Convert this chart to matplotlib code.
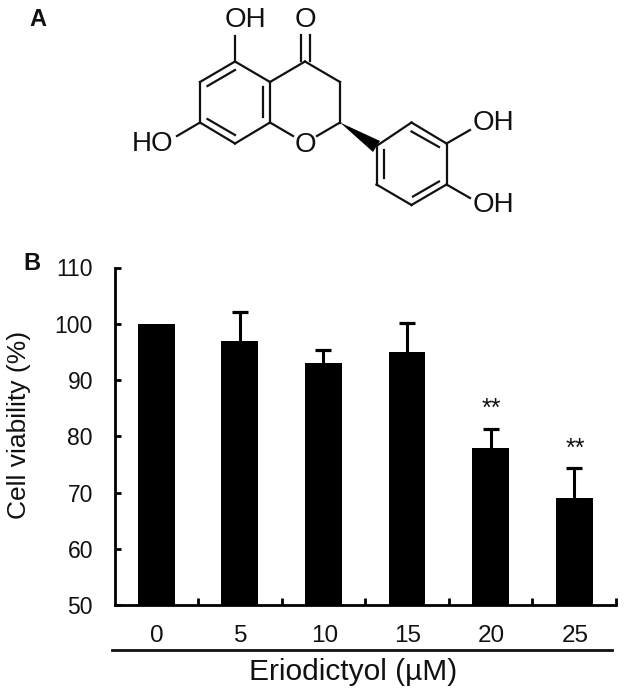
import matplotlib
matplotlib.use("Agg")
import matplotlib.pyplot as plt

plt.rcParams['font.family'] = ['Liberation Sans', 'DejaVu Sans']

W, H = 629, 696
INK = '#111111'

# Panel B data
doses = ['0', '5', '10', '15', '20', '25']
viability = [100, 97, 93, 95, 78, 69]
errors = [0, 5.1, 2.3, 5.2, 3.3, 5.3]
stars = ['', '', '', '', '**', '**']
yticks = [50, 60, 70, 80, 90, 100, 110]

# Panel A structure, in image pixels
bonds = [
    [(235, 61.5), (200, 82)], [(200, 82), (200, 122.5)], [(200, 122.5), (235, 143.5)],
    [(235, 143.5), (270, 122.5)], [(270, 122.5), (270, 82)], [(270, 82), (235, 61.5)],
    [(270, 82), (305, 61.5)], [(305, 61.5), (340, 82)], [(340, 82), (340, 122.5)],
    [(340, 122.5), (317, 136)], [(293, 136), (270, 122.5)],
    [(235, 61.5), (235, 36)], [(200, 122.5), (177, 136)],
    [(376.5, 146), (411.5, 122.5)], [(411.5, 122.5), (446.5, 143.5)],
    [(446.5, 143.5), (446.5, 184.5)], [(446.5, 184.5), (411.5, 205)],
    [(411.5, 205), (376.5, 184.5)], [(376.5, 184.5), (376.5, 146)],
    [(446.5, 143.5), (470, 130)], [(446.5, 184.5), (470, 198)],
]
inner_bonds = [
    [(207.5, 86), (235, 70)], [(207.5, 119), (235, 135)], [(262.5, 87), (262.5, 117)],
    [(384, 150), (384, 178)], [(411.5, 131.5), (439, 147)], [(439, 181.5), (413, 196.5)],
    [(301, 35), (301, 61)], [(309.5, 35), (309.5, 61)],
]
wedge = [(340, 122.5), (380, 141), (373, 152)]
atom_labels = [
    ('OH', 245, 20), ('O', 305, 20), ('HO', 153, 144), ('O', 305, 145),
    ('OH', 493, 123), ('OH', 493, 205.5),
]

fig = plt.figure(figsize=(W / 100, H / 100), dpi=100)

# Overlay in pixel coordinates for the structure and the labels
over = fig.add_axes([0, 0, 1, 1])
over.set_xlim(0, W)
over.set_ylim(H, 0)
over.axis('off')

for b in bonds + inner_bonds:
    over.plot([b[0][0], b[1][0]], [b[0][1], b[1][1]], color=INK, lw=1.6,
              solid_capstyle='projecting')
over.fill([p[0] for p in wedge], [p[1] for p in wedge], color='black', lw=0)
for txt, x, y in atom_labels:
    over.text(x, y, txt, fontsize=20, color=INK, ha='center', va='center')

over.text(38, 20, 'A', fontsize=17, fontweight='bold', ha='center', va='center', color=INK)
over.text(32, 263, 'B', fontsize=17, fontweight='bold', ha='center', va='center', color=INK)

# Line under the dose labels
over.plot([112, 612], [650, 650], color=INK, lw=2)
over.text(353, 680, 'Eriodictyol (µM)', fontsize=21.5, ha='center', va='baseline', color=INK)

# Bar chart
left, right, top, bottom = 114.5, 616, 267.5, 605
ax = fig.add_axes([left / W, 1 - bottom / H, (right - left) / W, (bottom - top) / H])
ax.patch.set_alpha(0)
pos = list(range(len(doses)))
ax.bar(pos, viability, width=0.44, color='black', zorder=2)

# Upper error bars only
tops = [v + e for v, e in zip(viability, errors)]
ax.vlines(pos[1:], viability[1:], tops[1:], color='black', lw=2.2, zorder=1)
ax.plot(pos[1:], tops[1:], linestyle='none', marker='_', color='black', markersize=11,
        markeredgewidth=2.3, zorder=1)

ax.set_xlim(-0.5, 5.5)
ax.set_ylim(50, 110)

for i, s in enumerate(stars):
    if s:
        ax.text(i + 0.01, tops[i] + 3.5, s, fontsize=18, ha='center', va='center', color=INK)

ax.spines['top'].set_visible(False)
ax.spines['right'].set_visible(False)
ax.spines['left'].set_linewidth(2)
ax.spines['bottom'].set_linewidth(2)

ax.set_yticks(yticks)
ax.tick_params(axis='y', direction='in', length=4.5, width=2, labelsize=16.5, pad=15.5,
               labelcolor=INK)
# ticks sit between the bars, labels under the bars
ax.set_xticks([i + 0.5 for i in pos])
ax.set_xticklabels([])
ax.tick_params(axis='x', direction='in', length=5, width=2)
for i, d in enumerate(doses):
    over.text(left + 1 + (right - left) * (i + 0.5) / 6, 636, d, fontsize=17.5, ha='center',
              va='center', color=INK)

over.text(19, 425, 'Cell viability (%)', fontsize=19, rotation=90, ha='center', va='center', color=INK)

fig.savefig('out.png', dpi=100)
